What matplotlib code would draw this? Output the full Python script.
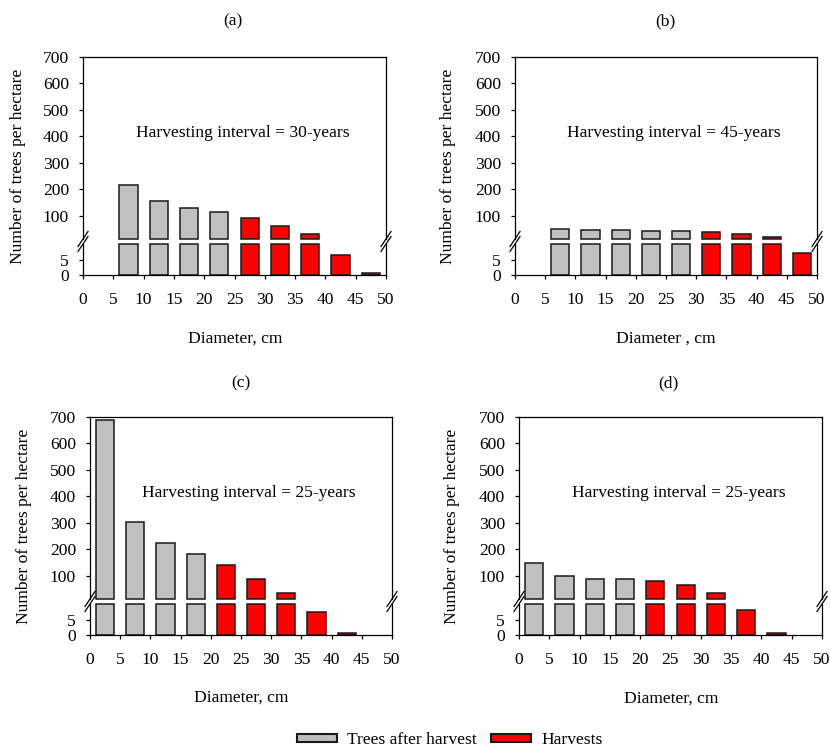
import numpy as np
import matplotlib.pyplot as plt
from matplotlib.patches import Patch
from matplotlib.lines import Line2D

plt.rcParams['font.family'] = 'Liberation Serif'
plt.rcParams['font.size'] = 12.6

# diameter class mid-points (cm)
diameter = np.array([2.5, 7.5, 12.5, 17.5, 22.5, 27.5, 32.5, 37.5, 42.5, 47.5])

# trees per hectare
after_a = [0, 217, 158, 131, 114, 0, 0, 0, 0, 0]
harvest_a = [0, 0, 0, 0, 0, 92, 61, 30, 6.6, 0.8]
after_b = [0, 52, 48, 46, 45, 42, 0, 0, 0, 0]
harvest_b = [0, 0, 0, 0, 0, 0, 38, 31, 20, 7.2]
after_c = [687, 302, 225, 182, 0, 0, 0, 0, 0, 0]
harvest_c = [0, 0, 0, 0, 140, 89, 37, 7.7, 0.6, 0]
after_d = [149, 99, 90, 87, 0, 0, 0, 0, 0, 0]
harvest_d = [0, 0, 0, 0, 82, 67, 37, 8.2, 0.7, 0]

titles = ["(a)", "(b)", "(c)", "(d)"]
intervals = [30, 45, 25, 25]
xlabels = ["Diameter, cm", "Diameter , cm", "Diameter, cm", "Diameter, cm"]
panels = [(after_a, harvest_a), (after_b, harvest_b),
          (after_c, harvest_c), (after_d, harvest_d)]

GRAY = "#c0c0c0"
RED = "#ff0000"
EDGE = "#1a1a1a"

W, H = 830, 747
fig = plt.figure(figsize=(W / 100, H / 100), dpi=100)

# pixel layout: left, right, top of each panel
boxes = [(83, 386, 57), (515, 817, 57), (90, 392, 417), (519, 822, 417)]
title_pos = [(233, 21), (665, 21), (241, 383), (668, 383)]
xlab_pos = [(235, 339), (666, 339), (241, 698), (671, 699)]
ylab_pos = [(18, 166), (448, 166), (24, 526), (452, 526)]
UP_H, GAP, LO_H = 182, 5, 31
UP_MIN, LO_MAX = 13, 10.3


def rect(l, t, w, h):
    return [l / W, 1 - (t + h) / H, w / W, h / H]


for k, (l, r, top) in enumerate(boxes):
    axu = fig.add_axes(rect(l, top, r - l, UP_H))
    axl = fig.add_axes(rect(l, top + UP_H + GAP, r - l, LO_H), sharex=axu)

    for vals, col in zip(panels[k], [GRAY, RED]):
        vals = np.array(vals, dtype=float)
        m = vals > UP_MIN
        axu.bar(diameter[m], vals[m] - UP_MIN, bottom=UP_MIN, width=3,
                color=col, edgecolor=EDGE, linewidth=1.1, clip_on=False)
        m = vals > 0
        axl.bar(diameter[m], np.minimum(vals[m], LO_MAX), width=3,
                color=col, edgecolor=EDGE, linewidth=1.1, clip_on=False)

    axu.set_xlim(0, 50)
    axu.set_ylim(UP_MIN, 700)
    axu.set_yticks(range(100, 701, 100))
    axl.set_ylim(0, LO_MAX)
    axl.set_yticks([0, 5])
    axl.set_xticks(range(0, 51, 5))

    axu.spines['bottom'].set_visible(False)
    axl.spines['top'].set_visible(False)
    for ax in (axu, axl):
        for s in ax.spines.values():
            s.set_linewidth(0.9)
        ax.tick_params(axis='y', direction='out', length=3, width=0.9, pad=7)
    axu.tick_params(axis='x', bottom=False, labelbottom=False)
    axl.tick_params(axis='x', direction='out', length=3, width=0.9, pad=9)

    axu.text(26.3, 415, f"Harvesting interval = {intervals[k]}-years",
             ha='center', va='center')

    # axis-break marks
    for x in (l, r):
        for y in (top + UP_H, top + UP_H + GAP):
            fig.add_artist(Line2D([(x - 5) / W, (x + 5) / W],
                                  [1 - (y + 7.5) / H, 1 - (y - 7.5) / H],
                                  transform=fig.transFigure, color='k', lw=0.9))

    fig.text(title_pos[k][0] / W, 1 - title_pos[k][1] / H, titles[k],
             ha='center', va='center')
    fig.text(xlab_pos[k][0] / W, 1 - xlab_pos[k][1] / H, xlabels[k],
             ha='center', va='center')
    fig.text(ylab_pos[k][0] / W, 1 - ylab_pos[k][1] / H,
             "Number of trees per hectare", rotation=90,
             ha='center', va='center')

handles = [Patch(facecolor=GRAY, edgecolor=EDGE, linewidth=1.5),
           Patch(facecolor=RED, edgecolor=EDGE, linewidth=1.5)]
fig.legend(handles, ["Trees after harvest", "Harvests"], loc='center',
           bbox_to_anchor=(450 / W, 1 - 740 / H), ncol=2, frameon=False,
           handlelength=2.3, handleheight=0.35, columnspacing=0.8,
           handletextpad=0.6, borderpad=0)

fig.savefig("out.png", dpi=100)
